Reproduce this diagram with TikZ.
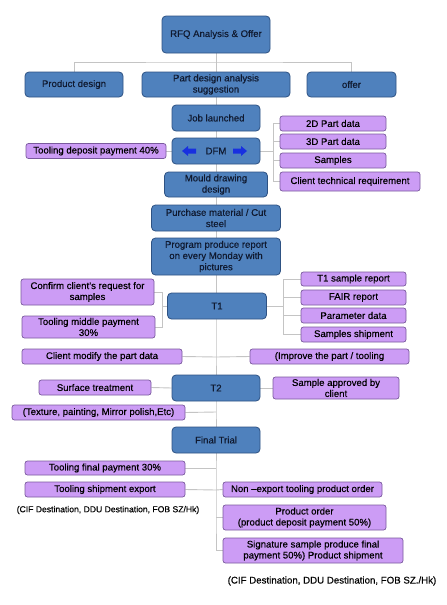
\documentclass[tikz,border=0pt]{standalone}
\usepackage{fontspec}
\setmainfont[FakeBold=0.35]{Liberation Sans}
\usetikzlibrary{backgrounds}
\definecolor{bfill}{HTML}{4F81BD}
\definecolor{bdraw}{HTML}{2E5283}
\definecolor{btext}{HTML}{101A30}
\definecolor{pfill}{HTML}{CC9CF5}
\definecolor{pdraw}{HTML}{7A5A9E}
\definecolor{lnc}{HTML}{C4C4C4}
\definecolor{arrc}{HTML}{1830E0}
\begin{document}
\begin{tikzpicture}[x=1pt,y=-1pt,
  bbox/.style={draw=bdraw,fill=bfill,line width=0.8pt,rounded corners=4pt,text=btext,align=center,inner sep=0pt,font=\fontsize{9.6}{11.2}\selectfont},
  pbox/.style={draw=pdraw,fill=pfill,line width=0.7pt,rounded corners=2.5pt,text=black,align=center,inner sep=0pt,font=\fontsize{9.6}{11}\selectfont},
  conn/.style={draw=lnc,line width=0.9pt},
  note/.style={inner sep=0pt,align=center}]
\useasboundingbox (0,0) rectangle (447,605);

\coordinate (bus) at (216,62);
\coordinate (db) at (273,151);
\coordinate (lb) at (162,306);
\coordinate (rb) at (283,306);
\coordinate (j1) at (216,357);
\coordinate (j2) at (216,412);
\coordinate (j3) at (216,468);
\coordinate (j4) at (216,490);
\coordinate (j5) at (216,517.5);

% main nodes
\node[bbox,minimum width=108pt,minimum height=37pt] (rfq) at (216,34.5) {RFQ Analysis \& Offer};
\node[bbox,minimum width=98pt,minimum height=25pt] (pd) at (74,84.5) {Product design};
\node[bbox,minimum width=148pt,minimum height=25pt] (pda) at (216,84.5) {Part design analysis\\suggestion};
\node[bbox,minimum width=89pt,minimum height=25pt] (off) at (351.5,84.5) {offer};
\node[bbox,minimum width=88pt,minimum height=26pt] (job) at (216,118) {Job launched};
\node[bbox,minimum width=88pt,minimum height=26pt] (dfm) at (216,151) {DFM};
\node[bbox,minimum width=103pt,minimum height=25pt] (mould) at (216,184.5) {Mould drawing\\design};
\node[bbox,minimum width=129pt,minimum height=26pt] (purch) at (216,218) {Purchase material / Cut\\steel};
\node[bbox,minimum width=129pt,minimum height=37pt] (prog) at (216,256.5) {Program produce report\\on every Monday with\\pictures};
\node[bbox,minimum width=99pt,minimum height=26pt] (t1) at (217,306) {T1};
\node[bbox,minimum width=88pt,minimum height=26pt] (t2) at (216,388) {T2};
\node[bbox,minimum width=88pt,minimum height=26pt] (fin) at (216,440) {Final Trial};

% side nodes
\node[pbox,minimum width=140pt,minimum height=15pt] (dep) at (96,151) {Tooling deposit payment 40\%};
\node[pbox,minimum width=106pt,minimum height=15pt] (d2) at (333,123.5) {2D Part data};
\node[pbox,minimum width=106pt,minimum height=15pt] (d3) at (333,141.5) {3D Part data};
\node[pbox,minimum width=106pt,minimum height=15pt] (samp) at (333,160.5) {Samples};
\node[pbox,minimum width=140pt,minimum height=19pt] (cli) at (350,181.5) {Client technical requirement};
\node[pbox,minimum width=133pt,minimum height=26pt] (conf) at (87.5,292) {Confirm client's request for\\samples};
\node[pbox,minimum width=133pt,minimum height=22pt] (mid) at (88.5,327) {Tooling middle payment\\30\%};
\node[pbox,minimum width=105pt,minimum height=14pt] (t1s) at (353.5,279) {T1 sample report};
\node[pbox,minimum width=105pt,minimum height=15pt] (fair) at (353.5,297.5) {FAIR report};
\node[pbox,minimum width=105pt,minimum height=15pt] (para) at (353.5,315.5) {Parameter data};
\node[pbox,minimum width=105pt,minimum height=15pt] (sship) at (353.5,334.5) {Samples shipment};
\node[pbox,minimum width=160pt,minimum height=15pt] (cmod) at (102,356.5) {Client modify the part data};
\node[pbox,minimum width=159pt,minimum height=15pt] (impr) at (329.5,356.5) {(Improve the part / tooling};
\node[pbox,minimum width=112pt,minimum height=15pt] (surf) at (95,387.5) {Surface treatment};
\node[pbox,minimum width=126pt,minimum height=22pt] (appr) at (336,388) {Sample approved by\\client};
\node[pbox,minimum width=173pt,minimum height=15pt] (tex) at (98.5,412.5) {(Texture, painting, Mirror polish,Etc)};
\node[pbox,minimum width=160pt,minimum height=14pt] (tfp) at (105,468) {Tooling final payment 30\%};
\node[pbox,minimum width=160pt,minimum height=15pt] (tse) at (105,489.5) {Tooling shipment export};
\node[pbox,minimum width=159pt,minimum height=15pt] (non) at (302.5,489.5) {Non --export tooling product order};
\node[pbox,minimum width=163pt,minimum height=25pt] (po) at (304.5,517.5) {Product order\\(product deposit payment 50\%)};
\node[pbox,minimum width=180pt,minimum height=25pt] (sig) at (313,550.5) {Signature sample produce final\\payment 50\%) Product shipment};
\node[note,font=\fontsize{8.6}{10}\selectfont] (cif1) at (108,510) {(CIF Destination, DDU Destination, FOB SZ/Hk)};
\node[note,font=\fontsize{9.7}{11}\selectfont] (cif2) at (332,581) {(CIF Destination, DDU Destination, FOB SZ./Hk)};

% DFM arrows
\fill[arrc] ([xshift=-34pt]dfm.center) -- ++(6,-5) -- ++(0,2.5) -- ++(8,0) -- ++(0,5) -- ++(-8,0) -- ++(0,2.5) -- cycle;
\fill[arrc] ([xshift=31pt]dfm.center) -- ++(-6,-5) -- ++(0,2.5) -- ++(-8,0) -- ++(0,5) -- ++(8,0) -- ++(0,2.5) -- cycle;

\begin{pgfonlayer}{background}
\fill[white] (0,0) rectangle (447,605);
% top bus
\draw[conn] (rfq.south) -- (bus);
\draw[conn] (pd.north) |- (bus) -| (off.north);
\draw[conn] (bus) -- (pda.north);
% main chain
\draw[conn] (pda.south) -- (job.north);
\draw[conn] (job.south) -- (dfm.north);
\draw[conn] (dfm.south) -- (mould.north);
\draw[conn] (mould.south) -- (purch.north);
\draw[conn] (purch.south) -- (prog.north);
\draw[conn] (prog.south) -- (prog.south |- t1.north);
\draw[conn] (t1.south -| t2.north) -- (j1) -- (t2.north);
\draw[conn] (t2.south) -- (j2) -- (fin.north);
\draw[conn] (fin.south) -- (j3) -- (j4) -- (j5) |- (sig.west);
% DFM branches
\draw[conn] (dep.east) -- (dfm.west);
\draw[conn] (dfm.east) -- (db);
\draw[conn] (d2.west) -| (db);
\draw[conn] (d3.west) -| (db);
\draw[conn] (samp.west) -| (db);
\draw[conn] (cli.west) -| (db);
% T1 branches
\draw[conn] (conf.east) -| (lb);
\draw[conn] (mid.east) -| (lb);
\draw[conn] (lb) -- (t1.west);
\draw[conn] (t1.east) -- (rb);
\draw[conn] (t1s.west) -| (rb);
\draw[conn] (fair.west) -| (rb);
\draw[conn] (para.west) -| (rb);
\draw[conn] (sship.west) -| (rb);
% modify row
\draw[conn] (cmod.east) -- (j1) -- (impr.west);
% T2 branches
\draw[conn] (surf.east) -- (t2.west);
\draw[conn] (t2.east) -- (appr.west);
\draw[conn] (tex.east) -- (j2);
% final branches
\draw[conn] (tfp.east) -- (j3);
\draw[conn] (tse.east) -- (j4) -- (non.west);
\draw[conn] (j5) -- (po.west);
\end{pgfonlayer}
\end{tikzpicture}
\end{document}
